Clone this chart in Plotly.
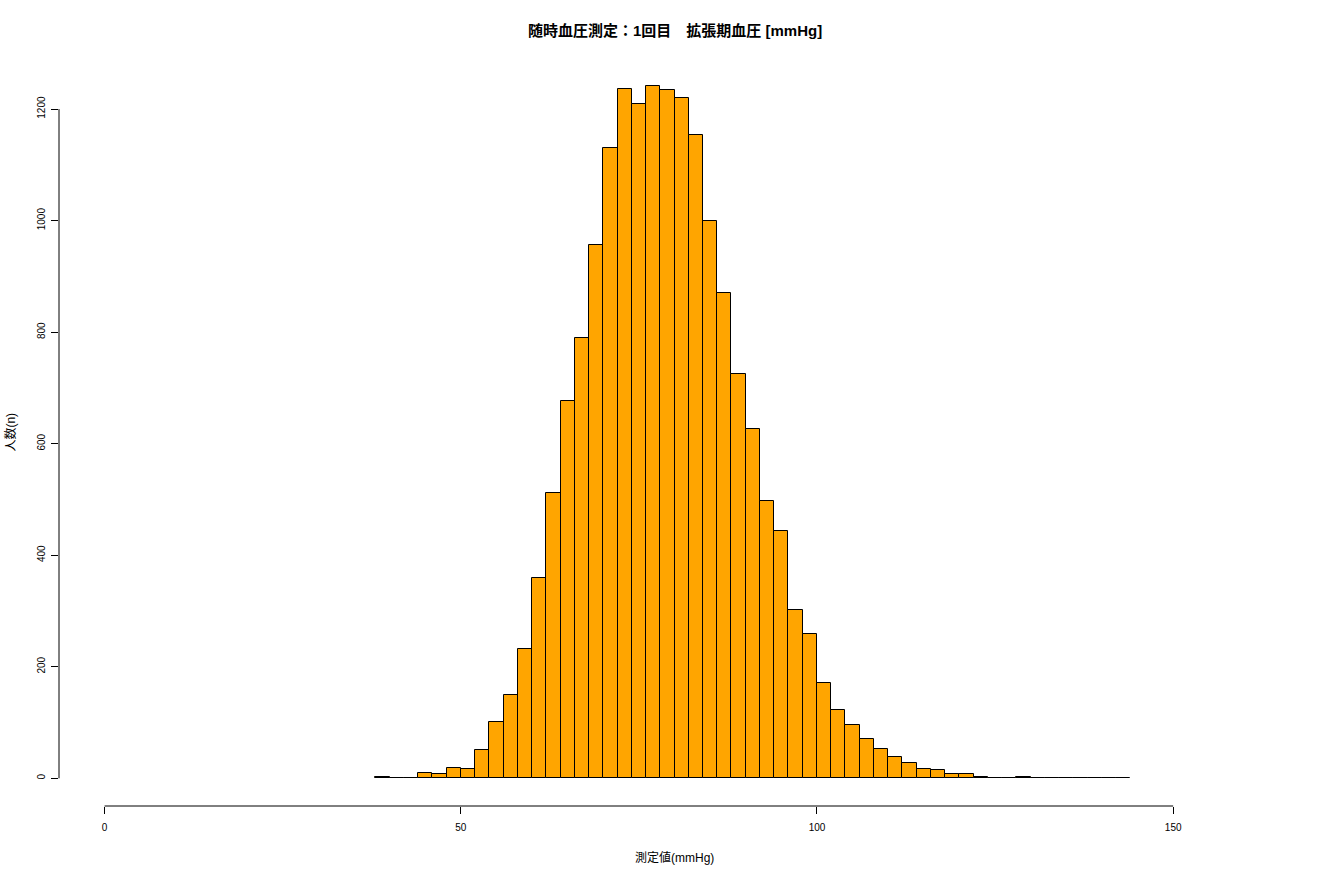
import plotly.graph_objects as go

# Histogram data: bins of width 2 mmHg starting at 38
bin_width = 2
bin_starts = list(range(38, 144, 2))
counts = [2, 0, 1, 9, 8, 19, 17, 51, 101, 149,
          231, 359, 512, 677, 790, 956, 1130, 1236, 1210, 1242,
          1235, 1220, 1153, 1000, 871, 725, 627, 497, 443, 302,
          258, 171, 123, 96, 70, 52, 38, 28, 16, 14,
          8, 7, 3, 1, 1, 3, 1, 1, 0, 0,
          0, 0, 1]
x_ticks = [0, 50, 100, 150]
y_ticks = [0, 200, 400, 600, 800, 1000, 1200]

title_text = "随時血圧測定：1回目　拡張期血圧 [mmHg]"
xlab = "測定値(mmHg)"
ylab = "人数(n)"

centers = [s + bin_width / 2 for s in bin_starts]

FONT = "Liberation Sans, Arial, Noto Sans CJK JP, sans-serif"

fig = go.Figure()
fig.add_trace(go.Bar(
    x=centers, y=counts, width=[bin_width] * len(counts),
    marker=dict(color="#FFA500", line=dict(color="black", width=1)),
    hoverinfo="x+y", showlegend=False,
))

xlim = (0, 160)
ext_x = 0.04 * (xlim[1] - xlim[0])
ymax = max(counts)
ext_y = 0.04 * ymax

fig.update_layout(
    width=1320, height=880,
    paper_bgcolor="white", plot_bgcolor="white",
    margin=dict(l=59, r=30, t=58, b=74),
    font=dict(family=FONT, size=10, color="black"),
    bargap=0,
    xaxis=dict(range=[xlim[0] - ext_x, xlim[1] + ext_x], showgrid=False, zeroline=False,
               showline=False, ticks="outside", ticklen=7, tickcolor="black", tickwidth=1,
               tickvals=x_ticks, ticktext=[str(v) for v in x_ticks],
               tickfont=dict(size=10, family=FONT), ticklabelstandoff=5),
    yaxis=dict(range=[-ext_y, ymax + ext_y], showgrid=False, zeroline=False,
               showline=False, ticks="outside", ticklen=7, tickcolor="black", tickwidth=1,
               tickvals=y_ticks, ticktext=[str(v) for v in y_ticks], tickangle=-90,
               tickfont=dict(size=10, family=FONT), ticklabelstandoff=2),
    shapes=[
        dict(type="line", xref="x", yref="paper", x0=x_ticks[0], x1=x_ticks[-1], y0=0, y1=0,
             line=dict(color="black", width=1)),
        dict(type="line", xref="paper", yref="y", x0=0, x1=0, y0=y_ticks[0], y1=y_ticks[-1],
             line=dict(color="black", width=1)),
    ],
    annotations=[
        dict(text="<b>" + title_text + "</b>", xref="paper", yref="paper", x=0.5, y=(806 - 30) / 748,
             xanchor="center", yanchor="middle", showarrow=False,
             font=dict(size=15, family=FONT)),
        dict(text=xlab, xref="paper", yref="paper", x=0.5, y=(806 - 857) / 748,
             xanchor="center", yanchor="middle", showarrow=False,
             font=dict(size=12, family=FONT)),
        dict(text=ylab, xref="paper", yref="paper", x=(10 - 59.4) / 1230.6, y=0.5,
             xanchor="center", yanchor="middle", showarrow=False, textangle=-90,
             font=dict(size=12, family=FONT)),
    ],
)

fig.write_html("out.html", config={"displayModeBar": False},
               post_script="document.body.style.margin='0px';")
